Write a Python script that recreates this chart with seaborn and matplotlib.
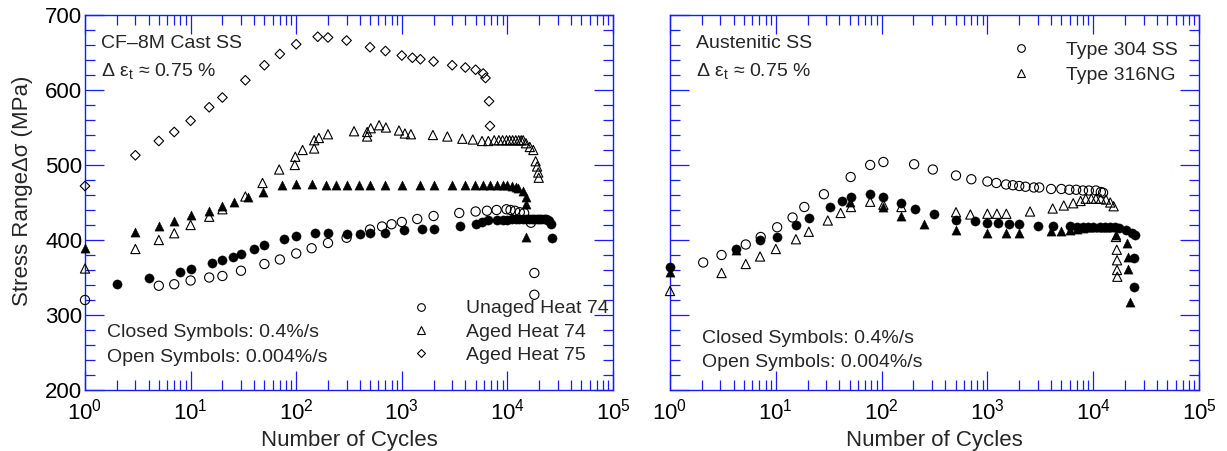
import numpy as np
import pandas as pd
import matplotlib
matplotlib.use("Agg")
import matplotlib.pyplot as plt
import seaborn as sns
from matplotlib.lines import Line2D
from matplotlib.ticker import MultipleLocator, LogLocator, NullFormatter

# ---------------- data: left panel (CF-8M cast SS) ----------------
unaged74_slow_N = [1, 5, 7, 10, 15, 20, 30, 50, 70, 100, 140, 200, 300, 500, 650, 800, 1000, 1400,
                   2000, 3500, 5000, 6400, 7900, 9800, 10700, 11800, 13100, 14400, 16700, 18000, 18000]
unaged74_slow_S = [320, 339, 341, 346, 350, 352, 359, 368, 374, 382, 389, 396, 403, 414, 418, 421, 424, 428,
                   432, 436, 438, 439, 440, 441, 440, 439, 437, 436, 423, 356, 327]

unaged74_fast_N = [2, 4, 8, 10, 16, 20, 25, 30, 40, 50, 76, 100, 150, 200, 300, 400, 500, 700, 1050, 1550,
                   2000, 3550, 5000, 5700, 6500, 8000, 9000, 10000, 11000, 12000, 13000, 14000, 15000,
                   16000, 17000, 18000, 19000, 20000, 21000, 22000, 23000, 24000, 25000, 26000, 26600]
unaged74_fast_S = [341, 350, 358, 362, 369, 373, 378, 381, 388, 393, 401, 405, 410, 410, 408, 408, 409, 410,
                   413, 415, 415, 419, 422, 424, 427, 427, 427, 427, 428, 428, 428, 428, 428, 428, 428,
                   428, 428, 428, 428, 428, 428, 427, 426, 422, 403]

aged74_slow_N = [1, 3, 5, 7, 10, 15, 20, 33, 48, 69, 97, 98, 115, 148, 148, 164, 200, 353, 470, 470, 508,
                 610, 707, 940, 1070, 1220, 1970, 2700, 3740, 4700, 5750, 6600, 7500, 8300, 9000, 9800,
                 10500, 11200, 12000, 12800, 13500, 14100, 15000, 16300, 17600, 18500, 19100, 19600, 19800]
aged74_slow_S = [362, 388, 400, 409, 420, 431, 441, 458, 476, 494, 500, 511, 520, 522, 533, 536, 541, 545,
                 538, 544, 549, 553, 550, 546, 542, 541, 540, 538, 535, 534, 532, 532, 533, 533, 533, 533,
                 533, 533, 533, 533, 533, 533, 529, 524, 520, 505, 498, 490, 483]

aged74_fast_N = [1, 3, 5, 7, 10, 15, 20, 25.6, 35, 48, 73, 100, 140, 190, 240, 300, 395, 500, 700, 1000,
                 1500, 2000, 3000, 4000, 4900, 5900, 6900, 8000, 9000, 10000, 11000, 12000, 12600, 14000,
                 15000, 15100, 15100]
aged74_fast_S = [390, 411, 419, 426, 433, 439, 446, 451, 458, 464, 473, 475, 475, 473, 473, 474, 474, 474,
                 474, 474, 474, 474, 474, 474, 474, 474, 474, 474, 473, 473, 472, 471, 470, 466, 458, 448, 404]

aged75_slow_N = [1, 3, 5, 7, 10, 15, 20, 33, 50, 70, 100, 160, 200, 300, 500, 700, 1000, 1260, 1500, 2000,
                 3000, 4000, 5000, 5900, 6200, 6700, 6840]
aged75_slow_S = [472, 513, 532, 544, 559, 577, 590, 613, 633, 648, 661, 671, 670, 666, 657, 652, 646, 643,
                 641, 638, 633, 630, 627, 622, 616, 585, 552]

# ---------------- data: right panel (austenitic SS) ----------------
t304_slow_N = [2.06, 3.07, 5.2, 7.2, 10.3, 14.4, 18.6, 28.5, 51, 78, 104, 203, 305, 505, 705, 1000, 1215,
               1500, 1740, 2000, 2290, 2750, 3090, 4000, 5000, 5950, 6900, 8000, 9100, 10600, 11800, 12400]
t304_slow_S = [370, 380, 394, 404, 417, 430, 444, 461, 484, 500, 504, 501, 494, 486, 481, 478, 476,
               474, 473, 472, 471, 470, 470, 468, 468, 467, 467, 466, 466, 466, 464, 463]

t316_slow_N = [1, 3.07, 5.2, 7.1, 10, 15.5, 20.5, 31, 41, 51.4, 78, 104, 154, 505, 690, 1000, 1230, 1510,
               2530, 4140, 5270, 6470, 7600, 8500, 9600, 10600, 11800, 13200, 14500, 15600, 16400, 16700,
               16800, 16800, 16900]
t316_slow_S = [332, 356, 368, 378, 388, 401, 411, 426, 436, 444, 451, 447, 444, 437, 434, 435, 435, 435,
               438, 442, 446, 449, 452, 455, 455, 455, 455, 454, 450, 445, 404, 387, 373, 360, 351]

t304_fast_N = [1, 4.2, 7.1, 10.3, 15.5, 20.6, 32.5, 42.4, 51.4, 78, 104, 154, 207, 313, 505, 770, 1000, 1260,
               1590, 2000, 2990, 4200, 6100, 7000, 8000, 9000, 10000, 11500, 13000, 14500, 16000, 17500,
               20300, 23500, 24600, 24300, 24300]
t304_fast_S = [364, 388, 400, 404, 420, 430, 444, 452, 457, 461, 458, 449, 441, 435, 427, 425, 423, 423,
               422, 421, 419, 419, 419, 418, 418, 418, 418, 418, 418, 418, 417, 416,
               413, 410, 407, 376, 338]

t316_fast_N = [1, 4.2, 50, 104, 154, 252, 505, 1000, 1500, 2000, 4000, 5000, 6000, 7000, 8000, 9000, 10000,
               11500, 13000, 14500, 16400, 20900, 21500, 21500, 22300]
t316_fast_S = [358, 387, 451, 444, 432, 422, 413, 409, 409, 409, 412, 412, 414, 415, 416, 417, 417,
               418, 418, 417, 407, 396, 378, 361, 318]

left_legend_labels = ["Unaged Heat 74", "Aged Heat 74", "Aged Heat 75"]
right_legend_labels = ["Type 304 SS", "Type 316NG"]
x_label = "Number of Cycles"
y_label = "Stress RangeΔσ (MPa)"

# ---------------- style ----------------
sns.set_style("ticks")
plt.rcParams["font.family"] = ["Liberation Sans", "DejaVu Sans"]
plt.rcParams["mathtext.fontset"] = "custom"
plt.rcParams["mathtext.rm"] = "Liberation Sans"
plt.rcParams["mathtext.it"] = "Liberation Sans:italic"
plt.rcParams["mathtext.bf"] = "Liberation Sans:bold"

AXC = "#1a1aff"
fig = plt.figure(figsize=(12.27, 4.51), dpi=100)
axL = fig.add_axes([85 / 1227, 1 - 390 / 451, 528 / 1227, 375 / 451])
axR = fig.add_axes([670 / 1227, 1 - 390 / 451, 529 / 1227, 375 / 451])

SZ = 44
LW = 0.8


def draw(ax, N, S, marker, filled, s=SZ):
    df = pd.DataFrame({"N": N, "S": S})
    if filled:
        sns.scatterplot(data=df, x="N", y="S", ax=ax, marker=marker, s=s, color="black",
                        edgecolor="black", linewidth=0.3, clip_on=False, zorder=4)
    else:
        sns.scatterplot(data=df, x="N", y="S", ax=ax, marker=marker, s=s, facecolors="none",
                        edgecolor="black", linewidth=LW, clip_on=False, zorder=3)


draw(axL, aged75_slow_N, aged75_slow_S, "D", False, s=24)
draw(axL, aged74_slow_N, aged74_slow_S, "^", False)
draw(axL, unaged74_slow_N, unaged74_slow_S, "o", False)
draw(axL, aged74_fast_N, aged74_fast_S, "^", True)
draw(axL, unaged74_fast_N, unaged74_fast_S, "o", True)

draw(axR, t316_slow_N, t316_slow_S, "^", False)
draw(axR, t304_slow_N, t304_slow_S, "o", False)
draw(axR, t316_fast_N, t316_fast_S, "^", True)
draw(axR, t304_fast_N, t304_fast_S, "o", True)

for ax in (axL, axR):
    ax.set_xscale("log")
    ax.set_xlim(1, 1e5)
    ax.set_ylim(200, 700)
    ax.yaxis.set_major_locator(MultipleLocator(100))
    ax.yaxis.set_minor_locator(MultipleLocator(20))
    ax.xaxis.set_major_locator(LogLocator(base=10, numticks=10))
    ax.xaxis.set_minor_locator(LogLocator(base=10, subs=np.arange(2, 10), numticks=20))
    ax.xaxis.set_minor_formatter(NullFormatter())
    ax.tick_params(which="both", direction="in", top=True, right=True, colors=AXC,
                   labelcolor="black", labelsize=16, width=0.9)
    ax.tick_params(which="major", length=14)
    ax.tick_params(which="minor", length=7)
    ax.tick_params(axis="x", pad=6)
    ax.tick_params(axis="y", pad=2)
    for sp in ax.spines.values():
        sp.set_color(AXC)
        sp.set_linewidth(1.0)
    ax.set_xlabel(x_label, fontsize=16, labelpad=4)
    ax.set_ylabel("")

axL.set_ylabel(y_label, fontsize=16)
axL.yaxis.set_label_coords(-0.098, 0.531)
axR.tick_params(axis="y", labelleft=False)

# annotations
axL.text(0.0303, 0.911, "CF–8M Cast SS", transform=axL.transAxes, fontsize=14, va="baseline")
axL.text(0.0303, 0.837, "Δ ε$_\\mathrm{t}$ ≈ 0.75 %", transform=axL.transAxes, fontsize=14, va="baseline")
axL.text(0.0417, 0.142, "Closed Symbols: 0.4%/s", transform=axL.transAxes, fontsize=14, va="baseline")
axL.text(0.0417, 0.0756, "Open Symbols: 0.004%/s", transform=axL.transAxes, fontsize=14, va="baseline")

axR.text(0.049, 0.911, "Austenitic SS", transform=axR.transAxes, fontsize=14, va="baseline")
axR.text(0.049, 0.837, "Δ ε$_\\mathrm{t}$ ≈ 0.75 %", transform=axR.transAxes, fontsize=14, va="baseline")
axR.text(0.0605, 0.1244, "Closed Symbols: 0.4%/s", transform=axR.transAxes, fontsize=14, va="baseline")
axR.text(0.0605, 0.0605, "Open Symbols: 0.004%/s", transform=axR.transAxes, fontsize=14, va="baseline")


def handle(m, ms=5.5):
    return Line2D([], [], ls="", marker=m, mfc="none", mec="black", ms=ms, mew=0.8)


legL = axL.legend([handle("o"), handle("^"), handle("D", 4.5)], left_legend_labels,
                  loc="center left", bbox_to_anchor=(0.618, 0.1547), frameon=False, fontsize=14,
                  handlelength=1.0, handletextpad=1.8, labelspacing=0.3, borderaxespad=0, borderpad=0)
legR = axR.legend([handle("o"), handle("^")], right_legend_labels,
                  loc="center left", bbox_to_anchor=(0.645, 0.8733), frameon=False, fontsize=14,
                  handlelength=1.0, handletextpad=1.8, labelspacing=0.4, borderaxespad=0, borderpad=0)

fig.savefig("out.png", dpi=100)
